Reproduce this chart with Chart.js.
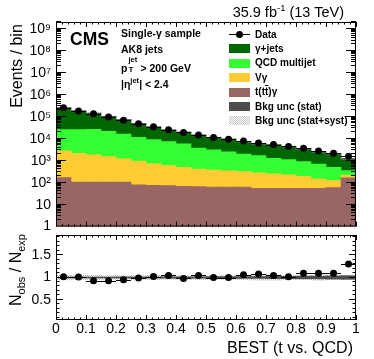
<!DOCTYPE html>
<html>
<head>
<meta charset="utf-8">
<script src="https://cdn.jsdelivr.net/npm/chart.js@4.4.1/dist/chart.umd.min.js"></script>
<style>
body { margin: 0; background: #fff; }
#wrap { position: relative; width: 374px; height: 359px; overflow: hidden;
        font-family: 'Liberation Sans', Arial, Helvetica, sans-serif; color: #000; }
canvas { position: absolute; left: 0; }
.t { position: absolute; white-space: nowrap; line-height: 1; }
.b { font-weight: bold; }
.rot { transform: translate(-50%, -50%) rotate(-90deg); }
.box { position: absolute; left: 229px; width: 21px; height: 9px; }
.lt { position: absolute; left: 255px; font-size: 10px; font-weight: bold; line-height: 1; white-space: nowrap; }
.ss { display: inline-block; position: relative; width: 13px; height: 1em; }
.sp { position: absolute; left: 1px; top: -5px; font-size: 7.5px; }
.sb { position: absolute; left: 1px; top: 5px; font-size: 8px; }
</style>
</head>
<body>
<div id="wrap">
  <canvas id="topPlot" width="374" height="240" style="top:0"></canvas>
  <canvas id="ratioPlot" width="374" height="147" style="top:212px"></canvas>

  <div class="t" style="right:30px;top:5px;font-size:14.5px">35.9 fb<span style="font-size:9.5px;position:relative;top:-6px">-1</span> (13 TeV)</div>
  <div class="t rot" style="left:17px;top:66px;font-size:16px">Events / bin</div>
  <div class="t rot" style="left:16px;top:270px;font-size:16px">N<span style="font-size:11px;position:relative;top:4px">obs</span> / N<span style="font-size:11px;position:relative;top:4px">exp</span></div>
  <div class="t" style="right:21px;top:340px;font-size:16px">BEST (t vs. QCD)</div>

  <div class="t b" style="left:70px;top:31px;font-size:17.5px">CMS</div>
  <div class="t b" style="left:121px;top:28px;font-size:10.5px">Single-γ sample</div>
  <div class="t b" style="left:121px;top:44px;font-size:10.5px">AK8 jets</div>
  <div class="t b" style="left:121px;top:61px;font-size:10.5px">p<span class="ss"><span class="sp">jet</span><span class="sb">T</span></span>&gt; 200 GeV</div>
  <div class="t b" style="left:121px;top:79px;font-size:10.5px">|η<span style="font-size:7.5px;position:relative;top:-5px">jet</span>| &lt; 2.4</div>

  <div style="position:absolute;left:229px;top:34px;width:21px;height:1px;background:#000"></div>
  <div style="position:absolute;left:236px;top:31px;width:7px;height:7px;border-radius:50%;background:#000"></div>
  <div class="lt" style="top:29.5px">Data</div>
  <div class="box" style="top:44.4px;background:#006600"></div>
  <div class="lt" style="top:43.9px">γ+jets</div>
  <div class="box" style="top:58.8px;background:#33ff33"></div>
  <div class="lt" style="top:58.3px">QCD multijet</div>
  <div class="box" style="top:73.2px;background:#ffcc33"></div>
  <div class="lt" style="top:72.7px">Vγ</div>
  <div class="box" style="top:87.6px;background:#996666"></div>
  <div class="lt" style="top:87.1px">t(t<span style="text-decoration:overline">t</span>)γ</div>
  <div class="box" style="top:102px;background:#4d4d4d"></div>
  <div class="lt" style="top:101.5px">Bkg unc (stat)</div>
  <div class="box" style="top:116.4px;background-image:repeating-conic-gradient(#c4c4c4 0 25%, #fff 0 50%);background-size:2px 2px"></div>
  <div class="lt" style="top:115.9px">Bkg unc (stat+syst)</div>
</div>

<script>
// bins of the BEST (t vs. QCD) output, 0.05 wide
const bins = [0.025, 0.075, 0.125, 0.175, 0.225, 0.275, 0.325, 0.375, 0.425, 0.475,
              0.525, 0.575, 0.625, 0.675, 0.725, 0.775, 0.825, 0.875, 0.925, 0.975];
const halfBin = 0.025;

// events per bin
const dataObs   = [260000, 187000, 137000, 98000, 71000, 49000, 35000, 26000, 19500, 15000,
                   11500, 9600, 8000, 6500, 5500, 4500, 3700, 2800, 2200, 1600];
const gammaJets = [229000, 158700, 119100, 82100, 57400, 37250, 25200, 17600, 14100, 10800,
                   8240, 7030, 5500, 4300, 4010, 3330, 2490, 1860, 1500, 865];
const qcdMulti  = [23500, 24100, 25040, 20330, 15370, 10800, 8400, 6810, 5390, 3380,
                   2780, 2220, 1670, 1420, 1030, 890, 717, 560, 375, 141];
const vGamma    = [2650, 2080, 1755, 1440, 1125, 876, 648, 529, 433, 351,
                   317, 284, 261, 226, 201, 173, 139, 92, 66, 49];
const ttGamma   = [170, 107, 107, 107, 107, 79, 76, 74, 68, 66,
                   63, 63, 63, 56, 56, 56, 56, 56, 60, 165];

// data / prediction and relative background uncertainties
const ratio   = [1.015, 1.01, 0.93, 0.93, 0.95, 0.99, 1.02, 1.045, 0.98, 1.045,
                 1.0, 1.0, 1.06, 1.08, 1.045, 1.015, 1.095, 1.095, 1.095, 1.30];
const uncStat = [0.01, 0.01, 0.01, 0.01, 0.012, 0.012, 0.012, 0.015, 0.015, 0.015,
                 0.02, 0.02, 0.02, 0.02, 0.025, 0.025, 0.03, 0.03, 0.035, 0.04];
const uncTot  = [0.05, 0.05, 0.05, 0.04, 0.04, 0.04, 0.05, 0.04, 0.04, 0.05,
                 0.04, 0.04, 0.05, 0.06, 0.06, 0.05, 0.04, 0.06, 0.05, 0.05];

Chart.defaults.font.family = "'Liberation Sans', Arial, Helvetica, sans-serif";
Chart.defaults.color = '#000';

const total = bins.map((b, i) => gammaJets[i] + qcdMulti[i] + vGamma[i] + ttGamma[i]);

// light grey checker used for the stat+syst band
function hatch() {
  const c = document.createElement('canvas');
  c.width = 2; c.height = 2;
  const g = c.getContext('2d');
  g.fillStyle = '#b4b4b4';
  g.fillRect(0, 0, 1, 1);
  g.fillRect(1, 1, 1, 1);
  return g.createPattern(c, 'repeat');
}

// frame with inward ticks on all four sides + horizontal bin-width bars on data
function frameTicks(xTicks, yTicks) {
  return {
    id: 'frameTicks',
    afterDatasetsDraw(chart) {
      const ctx = chart.ctx, a = chart.chartArea;
      const x = chart.scales.x, y = chart.scales.y;
      ctx.save();
      ctx.strokeStyle = '#000';
      ctx.lineWidth = 1;
      ctx.beginPath();
      const meta = chart.getDatasetMeta(0);
      meta.data.forEach((pt, i) => {
        const py = Math.round(pt.y) + 0.5;
        ctx.moveTo(x.getPixelForValue(bins[i] - halfBin), py);
        ctx.lineTo(x.getPixelForValue(bins[i] + halfBin), py);
      });
      xTicks.forEach(([v, len]) => {
        const px = Math.round(x.getPixelForValue(v)) + 0.5;
        ctx.moveTo(px, a.bottom); ctx.lineTo(px, a.bottom - len);
        ctx.moveTo(px, a.top); ctx.lineTo(px, a.top + len);
      });
      yTicks.forEach(([v, len]) => {
        const py = Math.round(y.getPixelForValue(v)) - 0.5;
        ctx.moveTo(a.left, py); ctx.lineTo(a.left + len, py);
        ctx.moveTo(a.right, py); ctx.lineTo(a.right - len, py);
      });
      ctx.stroke();
      ctx.strokeRect(a.left + 0.5, a.top + 0.5, a.right - a.left - 1, a.bottom - a.top - 1);
      ctx.restore();
    }
  };
}

const xTickMarks = (maj, min) => {
  const t = [];
  for (let i = 0; i <= 50; i++) t.push([i * 0.02, i % 5 === 0 ? maj : min]);
  return t;
};

const yMax = 2.1e9;
const logTicks = [];
for (let e = 0; e <= 9; e++) {
  for (let m = 1; m <= 9; m++) {
    const v = m * Math.pow(10, e);
    if (v <= yMax && !(e === 0 && m === 1)) logTicks.push([v, m === 1 ? 10 : 5]);
  }
}
const ratioTicks = [];
for (let i = 1; i <= 19; i++) ratioTicks.push([i / 10, i % 5 === 0 ? 7 : 3.5]);

const supDigits = { 2: '²', 3: '³', 4: '⁴', 5: '⁵', 6: '⁶', 7: '⁷', 8: '⁸', 9: '⁹' };
function logLabel(v) {
  const e = Math.round(Math.log10(v));
  if (Math.abs(v - Math.pow(10, e)) > 1e-6 * v) return '';
  return e === 0 ? '1' : e === 1 ? '10' : '10' + supDigits[e];
}

const pts = arr => bins.map((b, i) => ({ x: b, y: arr[i] }));
const band = (centre, unc) => bins.map((b, i) => ({ x: b, y: [centre[i] * (1 - unc[i]), centre[i] * (1 + unc[i])] }));
const bar = { barPercentage: 1, categoryPercentage: 1, borderWidth: 0 };

new Chart(document.getElementById('topPlot'), {
  type: 'bar',
  data: {
    datasets: [
      { type: 'line', label: 'Data', data: pts(dataObs), showLine: false, pointRadius: 3.5,
        pointBackgroundColor: '#000', pointBorderWidth: 0, order: 0 },
      { label: 'Bkg unc (stat)', data: band(total, uncStat), backgroundColor: '#4d4d4d',
        stack: 'stat', grouped: false, order: 1, ...bar },
      { label: 'Bkg unc (stat+syst)', data: band(total, uncTot), backgroundColor: hatch(),
        stack: 'syst', grouped: false, order: 2, ...bar },
      { label: 't(tt)γ', data: pts(ttGamma), backgroundColor: '#996666', stack: 'bkg', order: 3, ...bar },
      { label: 'Vγ', data: pts(vGamma), backgroundColor: '#ffcc33', stack: 'bkg', order: 3, ...bar },
      { label: 'QCD multijet', data: pts(qcdMulti), backgroundColor: '#33ff33', stack: 'bkg', order: 3, ...bar },
      { label: 'γ+jets', data: pts(gammaJets), backgroundColor: '#006600', stack: 'bkg', order: 3, ...bar }
    ]
  },
  options: {
    responsive: false,
    animation: false,
    layout: { autoPadding: false, padding: { top: 22, right: 18, bottom: 12, left: 0 } },
    plugins: { legend: { display: false }, tooltip: { enabled: false } },
    scales: {
      x: { type: 'linear', min: 0, max: 1, offset: false, stacked: true,
           grid: { display: false, drawTicks: false }, border: { display: false },
           ticks: { display: false }, afterFit(s) { s.height = 0; } },
      y: { type: 'logarithmic', min: 1, max: yMax, stacked: true,
           grid: { display: false, drawTicks: false }, border: { display: false },
           ticks: { autoSkip: false, padding: 5, font: { size: 14 }, callback: logLabel },
           afterFit(s) { s.width = 56; } }
    }
  },
  plugins: [frameTicks(xTickMarks(5, 2.5), logTicks)]
});

const ones = bins.map(() => 1);

new Chart(document.getElementById('ratioPlot'), {
  type: 'bar',
  data: {
    datasets: [
      { type: 'line', label: 'Data / Bkg', data: pts(ratio), showLine: false, pointRadius: 3.5,
        pointBackgroundColor: '#000', pointBorderWidth: 0, order: 0 },
      { label: 'Bkg unc (stat)', data: band(ones, uncStat), backgroundColor: '#4d4d4d',
        grouped: false, order: 1, ...bar },
      { label: 'Bkg unc (stat+syst)', data: band(ones, uncTot), backgroundColor: hatch(),
        grouped: false, order: 2, ...bar }
    ]
  },
  options: {
    responsive: false,
    animation: false,
    layout: { autoPadding: false, padding: { top: 23, right: 18, bottom: 19, left: 0 } },
    plugins: { legend: { display: false }, tooltip: { enabled: false } },
    scales: {
      x: { type: 'linear', min: 0, max: 1, offset: false,
           grid: { display: false, drawTicks: false }, border: { display: false },
           ticks: { stepSize: 0.1, autoSkip: false, maxRotation: 0, padding: 1, font: { size: 14 },
                    callback: v => String(Math.round(v * 10) / 10) },
           afterFit(s) { s.height = 20; } },
      y: { type: 'linear', min: 0.055, max: 1.945,
           grid: { display: false, drawTicks: false }, border: { display: false },
           ticks: { stepSize: 0.5, autoSkip: false, padding: 5, font: { size: 14 },
                    callback: v => (Math.abs(v * 2 - Math.round(v * 2)) < 1e-6 && v > 0.2 && v < 1.8) ? String(v) : '' },
           afterFit(s) { s.width = 56; } }
    }
  },
  plugins: [frameTicks(xTickMarks(5, 2.5), ratioTicks)]
});
</script>
</body>
</html>
